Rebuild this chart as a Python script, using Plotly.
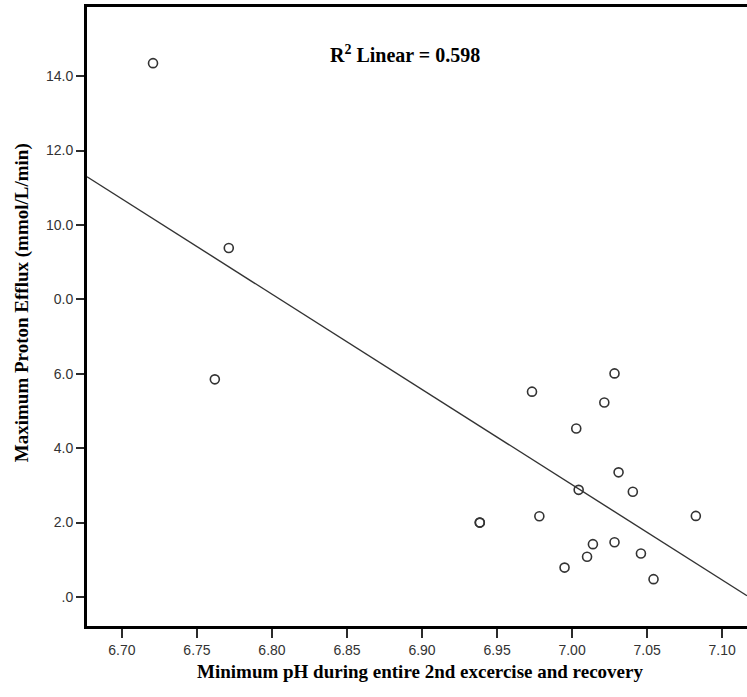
import numpy as np
import plotly.graph_objects as go

# Minimum pH vs. maximum proton efflux, one value per subject
# (two subjects share the 6.94 / 2.0 position)
min_ph = [6.7207, 6.7712, 6.7619, 6.9385, 6.9385, 6.9733, 6.9782, 6.9950,
          7.0028, 7.0044, 7.0100, 7.0139, 7.0215, 7.0283, 7.0283, 7.0310,
          7.0405, 7.0459, 7.0543, 7.0825]
max_efflux = [14.35, 9.38, 5.85, 2.00, 2.00, 5.52, 2.17, 0.79,
              4.53, 2.88, 1.08, 1.42, 5.23, 6.01, 1.47, 3.35,
              2.83, 1.17, 0.48, 2.18]

y_tickvals = [0, 2, 4, 6, 8, 10, 12, 14]
y_ticktext = [".0", "2.0", "4.0", "6.0", "0.0", "10.0", "12.0", "14.0"]
x_tickvals = [6.70, 6.75, 6.80, 6.85, 6.90, 6.95, 7.00, 7.05, 7.10]
x_ticktext = ["6.70", "6.75", "6.80", "6.85", "6.90", "6.95", "7.00", "7.05", "7.10"]

x_range = [6.6767, 7.1166]
y_range = [-0.78, 15.86]

# least-squares fit line across the whole x range
slope, intercept = np.polyfit(min_ph, max_efflux, 1)
fit_x = np.array(x_range)
fit_y = intercept + slope * fit_x

ink = "#2b2b2b"
serif = "Liberation Serif"
fig = go.Figure()
fig.add_trace(go.Scatter(x=fit_x, y=fit_y, mode="lines",
                         line=dict(color="#333333", width=1.4),
                         hoverinfo="skip", showlegend=False))
fig.add_trace(go.Scatter(x=min_ph, y=max_efflux, mode="markers",
                         marker=dict(symbol="circle-open", size=9,
                                     color="#333333", line=dict(width=1.6)),
                         showlegend=False))

fig.add_annotation(text="<b>R<sup>2</sup> Linear = 0.598</b>", xref="paper", yref="paper",
                   x=0.482, y=0.924, xanchor="center", yanchor="middle",
                   showarrow=False,
                   font=dict(family=serif, size=20, color="black"))

# axis titles
fig.add_annotation(text="<b>Minimum pH during entire 2nd excercise and recovery</b>",
                   xref="paper", yref="paper", x=0.505, y=-0.073,
                   xanchor="center", yanchor="middle", showarrow=False,
                   font=dict(family=serif, size=19, color="black"))
fig.add_annotation(text="<b>Maximum Proton Efflux (mmol/L/min)</b>",
                   xref="paper", yref="paper", x=-0.098, y=0.522,
                   xanchor="center", yanchor="middle", showarrow=False,
                   textangle=-90,
                   font=dict(family=serif, size=19, color="black"))

fig.update_layout(
    width=747, height=697,
    margin=dict(l=87, r=0, t=7, b=71),
    paper_bgcolor="white", plot_bgcolor="white",
    xaxis=dict(range=x_range, tickvals=x_tickvals, ticktext=x_ticktext,
               showgrid=False, zeroline=False,
               showline=True, linecolor="black", linewidth=3, mirror=True,
               ticks="outside", ticklen=9, tickwidth=1.5, tickcolor=ink,
               tickfont=dict(family="Liberation Sans", size=14, color="#333333")),
    yaxis=dict(range=y_range, tickvals=y_tickvals, ticktext=y_ticktext,
               showgrid=False, zeroline=False,
               showline=True, linecolor="black", linewidth=3,
               ticks="outside", ticklen=8, tickwidth=1.5, tickcolor=ink,
               tickfont=dict(family="Liberation Sans", size=14, color="#333333")),
)

fig.write_html("out.html")
